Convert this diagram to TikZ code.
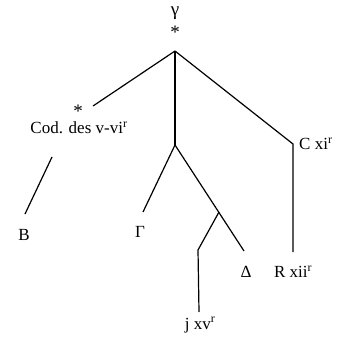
\documentclass[tikz,border=0pt]{standalone}
\usepackage{fontspec}
\setmainfont{Liberation Serif}
\begin{document}
\begin{tikzpicture}[x=1pt,y=-1pt,
  lbl/.style={inner sep=0pt,font=\fontsize{17}{17}\selectfont},
  star/.style={inner sep=0pt,anchor=base,font=\fontsize{19}{19}\selectfont},
  edge/.style={line width=1.2pt}]
\useasboundingbox (0,0) rectangle (343,344);
% root
\node[lbl,font=\fontsize{19}{19}\selectfont] (gam) at (175,13) {γ};
\node[star] (st1) at (175,39) {\smash{*}};
\coordinate (r) at (175,51);
% left branch
\coordinate (a) at (93,106);
\node[star] (st2) at (78,118) {\smash{*}};
\node[lbl] (cod) at (79,128) {Cod. des v-vi\textsuperscript{r}};
\coordinate (b1) at (52,157);
\coordinate (b2) at (25,214);
\node[lbl] (B) at (24,235) {B};
% middle branch
\coordinate (m) at (175,145);
\coordinate (g) at (143,212);
\node[lbl] (G) at (140,232) {Γ};
\coordinate (d) at (244,251);
\node[lbl] (D) at (246,272) {Δ};
\coordinate (s) at (219,212);
\coordinate (s2) at (198,250);
\coordinate (s3) at (199,312);
\node[lbl] (j) at (200,325) {j xv\textsuperscript{r}};
% right branch
\coordinate (c) at (293,144);
\node[lbl,anchor=west] (C) at (299,144) {C xi\textsuperscript{r}};
\coordinate (c2) at (293,252);
\node[lbl] (R) at (293,272) {R xii\textsuperscript{r}};
% edges
\draw[edge] (r) -- (a);
\draw[edge] (b1) -- (b2);
\draw[edge] (r) -- (m);
\draw[edge] (m) -- (g);
\draw[edge] (m) -- (d);
\draw[edge] (s) -- (s2) -- (s3);
\draw[edge] (r) -- (c) -- (c2);
\end{tikzpicture}
\end{document}
